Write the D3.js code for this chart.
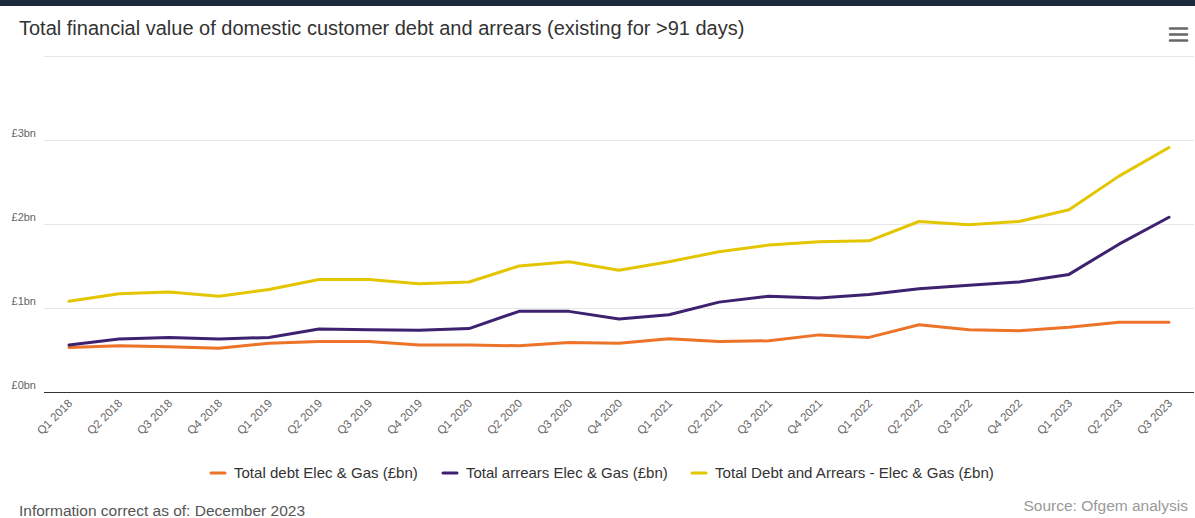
<!DOCTYPE html>
<html>
<head>
<meta charset="utf-8">
<script src="https://cdn.jsdelivr.net/npm/d3@7"></script>
<style>
  body { margin: 0; background: #fff; }
  svg { display: block; font-family: "Liberation Sans", Arial, sans-serif; }
</style>
</head>
<body>
<div id="wrapper"></div>
<script>
// data (£bn)
const quarters = ["Q1 2018","Q2 2018","Q3 2018","Q4 2018","Q1 2019","Q2 2019","Q3 2019","Q4 2019",
  "Q1 2020","Q2 2020","Q3 2020","Q4 2020","Q1 2021","Q2 2021","Q3 2021","Q4 2021",
  "Q1 2022","Q2 2022","Q3 2022","Q4 2022","Q1 2023","Q2 2023","Q3 2023"]
const debt = [0.53,0.55,0.54,0.52,0.58,0.60,0.60,0.56,0.56,0.55,0.59,0.58,0.635,0.60,0.61,0.68,
  0.65,0.80,0.74,0.73,0.77,0.83,0.83]
const arrears = [0.56,0.63,0.65,0.63,0.65,0.75,0.74,0.735,0.755,0.96,0.96,0.87,0.92,1.07,1.14,1.12,
  1.16,1.23,1.27,1.31,1.40,1.76,2.08]
const total = [1.08,1.17,1.19,1.14,1.22,1.34,1.34,1.29,1.31,1.50,1.55,1.45,1.55,1.67,1.75,1.79,
  1.80,2.03,1.99,2.03,2.17,2.57,2.91]
const yTicks = [0,1,2,3,4]
const seriesNames = ["Total debt Elec & Gas (£bn)","Total arrears Elec & Gas (£bn)","Total Debt and Arrears - Elec & Gas (£bn)"]
const seriesColors = ["#ec7328","#3d2270","#e3c600"]

const series = [debt, arrears, total].map((values, i) => ({
  name: seriesNames[i], color: seriesColors[i], values: values
}))

const width = 1195
const height = 518
const plot = { left: 44, right: 1194, top: 56, bottom: 392 }

const svg = d3.select("#wrapper").append("svg")
  .attr("width", width)
  .attr("height", height)

// top band
svg.append("rect").attr("x", 0).attr("y", 0).attr("width", width).attr("height", 6).attr("fill", "#1d2a3b")

svg.append("text")
  .attr("x", 19).attr("y", 35)
  .attr("fill", "#333")
  .style("font-size", "20px")
  .text("Total financial value of domestic customer debt and arrears (existing for >91 days)")

// menu icon
svg.append("g").selectAll("line")
  .data([0, 6, 12])
  .join("line")
  .attr("x1", 1170).attr("x2", 1187)
  .attr("y1", d => 28.5 + d).attr("y2", d => 28.5 + d)
  .attr("stroke", "#666").attr("stroke-width", 2.5).attr("stroke-linecap", "round")

const xScale = d3.scaleBand().domain(quarters).range([plot.left, plot.right])
const xPos = q => xScale(q) + xScale.bandwidth() / 2
const yScale = d3.scaleLinear().domain([0, 4]).range([plot.bottom, plot.top])

// gridlines
svg.append("g").selectAll("line")
  .data(yTicks.filter(d => d > 0))
  .join("line")
  .attr("x1", plot.left).attr("x2", plot.right)
  .attr("y1", d => yScale(d) + 0.5).attr("y2", d => yScale(d) + 0.5)
  .attr("stroke", "#e6e6e6")

// y labels (top one hidden as in original)
svg.append("g").selectAll("text")
  .data(yTicks.filter(d => d < 4))
  .join("text")
  .attr("x", 36)
  .attr("y", d => yScale(d) - 3)
  .attr("text-anchor", "end")
  .attr("fill", "#666")
  .style("font-size", "11px")
  .text(d => "£" + d + "bn")

// x axis line
svg.append("line")
  .attr("x1", plot.left).attr("x2", plot.right)
  .attr("y1", plot.bottom + 0.5).attr("y2", plot.bottom + 0.5)
  .attr("stroke", "#333").attr("stroke-width", 1.2)

svg.append("g").selectAll("text")
  .data(quarters)
  .join("text")
  .attr("transform", d => `translate(${xPos(d) + 4},${plot.bottom + 12}) rotate(-45)`)
  .attr("text-anchor", "end")
  .attr("fill", "#666")
  .style("font-size", "11.5px")
  .text(d => d)

// lines
const lineGen = d3.line()
  .x((d, i) => xPos(quarters[i]))
  .y(d => yScale(d))

svg.append("g").selectAll("path")
  .data(series)
  .join("path")
  .attr("d", d => lineGen(d.values))
  .attr("fill", "none")
  .attr("stroke", d => d.color)
  .attr("stroke-width", 3)
  .attr("stroke-linejoin", "round")
  .attr("stroke-linecap", "round")

// legend (original font is a bit narrow, so fit each label to its width)
const legendX = [211, 443, 692]
const legendW = [184, 202, 279]
const legend = svg.append("g").selectAll("g")
  .data(series)
  .join("g")
  .attr("transform", (d, i) => `translate(${legendX[i]},473)`)
legend.append("line")
  .attr("x1", 0).attr("x2", 14).attr("y1", 0).attr("y2", 0)
  .attr("stroke", d => d.color).attr("stroke-width", 3).attr("stroke-linecap", "round")
legend.append("text")
  .attr("fill", "#333")
  .style("font-size", "14px")
  .text(d => d.name)
  .attr("transform", function(d, i) {
    const k = legendW[i] / this.getComputedTextLength()
    return `translate(23,5) scale(${k},1)`
  })

svg.append("text")
  .attr("x", 19).attr("y", 516)
  .attr("fill", "#555")
  .style("font-size", "15.5px")
  .text("Information correct as of: December 2023")

svg.append("text")
  .attr("x", 1188).attr("y", 511)
  .attr("text-anchor", "end")
  .attr("fill", "#999")
  .style("font-size", "15.5px")
  .text("Source: Ofgem analysis")
</script>
</body>
</html>
